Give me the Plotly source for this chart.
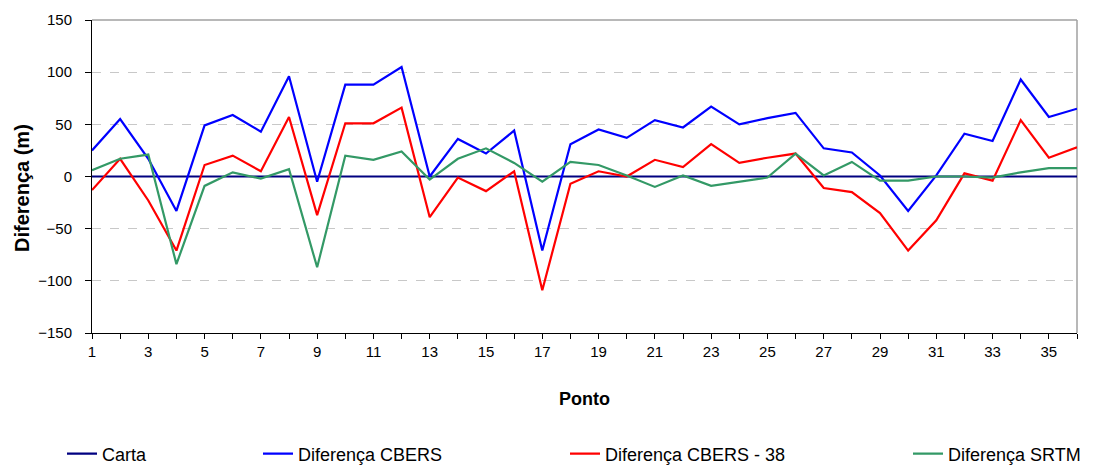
import plotly.graph_objects as go

pontos = list(range(1, 37))
carta = [0] * 36
dif_cbers = [25, 55, 17, -33, 49, 59, 43, 96, -5, 88, 88, 105, 0, 36, 22, 44, -71, 31,
             45, 37, 54, 47, 67, 50, 56, 61, 27, 23, 1, -33, 1, 41, 34, 93, 57, 65]
dif_cbers_38 = [-13, 17, -23, -71, 11, 20, 5, 57, -37, 51, 51, 66, -39, -1, -14, 5, -109, -7,
                5, 0, 16, 9, 31, 13, 18, 22, -11, -15, -35, -71, -42, 3, -4, 54, 18, 28]
dif_srtm = [6, 17, 21, -84, -9, 4, -2, 7, -87, 20, 16, 24, -3, 17, 27, 13, -5, 14,
            11, 1, -10, 1, -9, -5, -1, 22, 1, 14, -4, -4, 0, 0, -1, 4, 8, 8]

x_labels = list(range(1, 37, 2))
y_ticks = [-150, -100, -50, 0, 50, 100, 150]

FONT = "Liberation Sans, Arial, sans-serif"

# page body has an 8px default margin, so the figure is drawn offset by 8px
OFF = 8
W, H = 1098 - OFF, 466 - OFF

fig = go.Figure()
series = [
    ("Carta", carta, "#000080", "legend"),
    ("Diferença CBERS", dif_cbers, "#0000FF", "legend2"),
    ("Diferença CBERS - 38", dif_cbers_38, "#FF0000", "legend3"),
    ("Diferença SRTM", dif_srtm, "#339966", "legend4"),
]
for name, vals, col, lg in series:
    fig.add_trace(go.Scatter(x=pontos, y=vals, mode="lines", name=name, showlegend=True,
                             line=dict(color=col, width=2.2), legend=lg))

PL, PR, PT, PB = 92 - OFF, 1077 - OFF, 20 - OFF, 333 - OFF
def px_to_paper_x(px):
    return (px - OFF - PL) / (PR - PL)
def py_to_paper_y(py):
    return (PB - (py - OFF)) / (PB - PT)

leg_common = dict(orientation="h", xref="paper", yref="paper", yanchor="middle", xanchor="left",
                  y=py_to_paper_y(454), font=dict(family=FONT, size=18, color="#000"),
                  bgcolor="rgba(0,0,0,0)", itemwidth=30, tracegroupgap=0)
legend_px = [62, 258, 565, 908]

fig.update_layout(
    width=W, height=H,
    margin=dict(l=PL, r=W - PR, t=PT, b=H - PB, autoexpand=False),
    paper_bgcolor="white", plot_bgcolor="white",
    font=dict(family=FONT, size=15, color="#000"),
    showlegend=True,
    legend=dict(x=px_to_paper_x(legend_px[0]), **leg_common),
    legend2=dict(x=px_to_paper_x(legend_px[1]), **leg_common),
    legend3=dict(x=px_to_paper_x(legend_px[2]), **leg_common),
    legend4=dict(x=px_to_paper_x(legend_px[3]), **leg_common),
    xaxis=dict(range=[1, 36], tickvals=x_labels, ticktext=[str(v) for v in x_labels],
               ticks="outside", ticklen=5, tickcolor="#000", showline=True, linecolor="#000",
               linewidth=1, showgrid=False, zeroline=False,
               minor=dict(dtick=1, ticks="outside", ticklen=5, tickcolor="#000", showgrid=False),
               tickfont=dict(size=15),
               title=dict(text="<b>Ponto</b>", font=dict(size=18), standoff=33)),
    yaxis=dict(range=[-150, 150], tickvals=y_ticks, ticks="outside", ticklen=6, tickcolor="#000",
               showline=True, linecolor="#000", linewidth=1, zeroline=False,
               showgrid=True, gridcolor="#C8C8C8", griddash="dash", gridwidth=1,
               tickfont=dict(size=15), ticklabelstandoff=10),
    annotations=[
        dict(text="<b>Diferença (m)</b>", textangle=-90, xref="paper", yref="paper",
             x=px_to_paper_x(22), y=py_to_paper_y(188), xanchor="center", yanchor="middle",
             showarrow=False, font=dict(family=FONT, size=20, color="#000")),
    ],
    shapes=[
        dict(type="line", xref="paper", yref="paper", x0=0, x1=1, y0=1, y1=1,
             line=dict(color="#A0A0A0", width=1.5), layer="below"),
        dict(type="line", xref="paper", yref="paper", x0=1, x1=1, y0=0, y1=1,
             line=dict(color="#A0A0A0", width=1.5), layer="below"),
    ],
)

fig.write_html("out.html")
